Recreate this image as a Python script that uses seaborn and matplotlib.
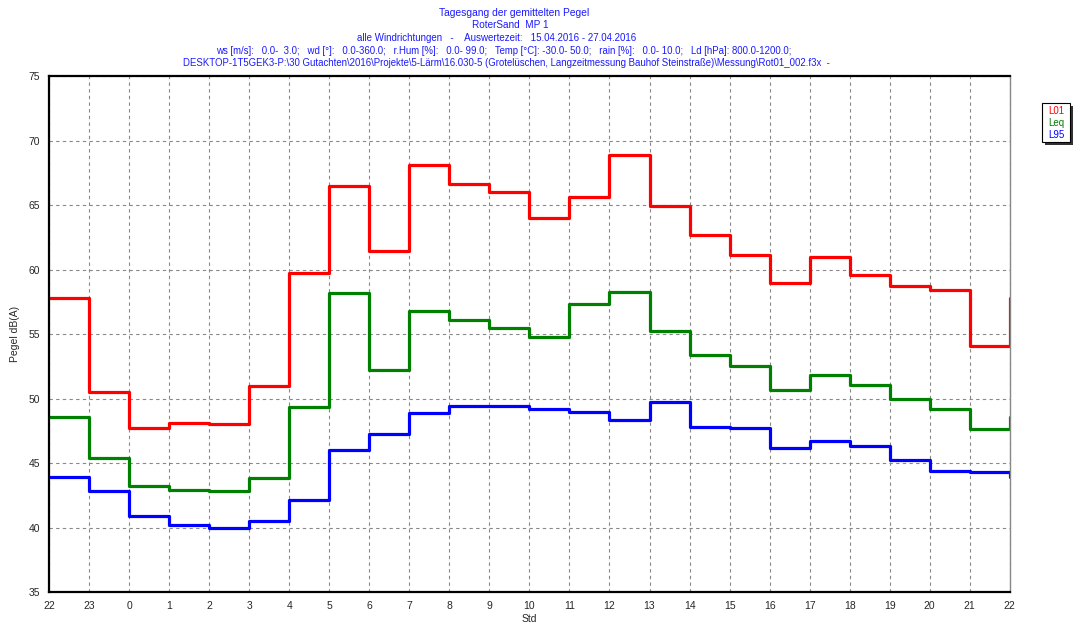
import numpy as np
import pandas as pd
import matplotlib
matplotlib.use("Agg")
import matplotlib.pyplot as plt
import seaborn as sns
from matplotlib.ticker import MultipleLocator

# Stunden (22 Uhr bis 22 Uhr)
stunden = [22, 23, 0, 1, 2, 3, 4, 5, 6, 7, 8, 9, 10, 11, 12, 13, 14, 15, 16, 17, 18, 19, 20, 21, 22]

# Mittelwerte je Stunde, dB(A)
l01 = [57.8, 50.5, 47.7, 48.1, 48.05, 51.0, 59.7, 66.5, 61.4, 68.1, 66.6, 66.0,
       64.0, 65.6, 68.9, 64.9, 62.7, 61.1, 58.95, 60.95, 59.6, 58.75, 58.4, 54.1]
leq = [48.6, 45.4, 43.25, 42.9, 42.85, 43.8, 49.35, 58.2, 52.2, 56.8, 56.05, 55.5,
       54.75, 57.3, 58.25, 55.25, 53.35, 52.55, 50.65, 51.85, 51.05, 50.0, 49.2, 47.6]
l95 = [43.95, 42.85, 40.9, 40.2, 40.0, 40.5, 42.15, 46.0, 47.25, 48.85, 49.45, 49.4,
       49.15, 48.95, 48.35, 49.7, 47.8, 47.7, 46.15, 46.7, 46.3, 45.25, 44.35, 44.3]

reihen = {"L01": l01, "Leq": leq, "L95": l95}
farben = {"L01": "#ff0000", "Leq": "#008000", "L95": "#0000ff"}

# Lange Tabelle, letzter Wert = erster Wert (Tageszyklus)
rows = []
for name, werte in reihen.items():
    w = list(werte) + [werte[0]]
    for i, v in enumerate(w):
        rows.append({"pos": i, "Pegel": v, "Reihe": name})
df = pd.DataFrame(rows)

sns.set_style("white")
plt.rcParams["font.family"] = ["Liberation Sans", "DejaVu Sans"]

fig = plt.figure(figsize=(10.8, 6.3), dpi=100)
ax = fig.add_axes([0.0454, 0.0603, 0.8896, 0.8190])

sns.lineplot(data=df, x="pos", y="Pegel", hue="Reihe", palette=farben,
             drawstyle="steps-post", linewidth=2.3, ax=ax, legend=False)

ax.set_xlim(0, 24)
ax.set_ylim(35, 75)
ax.set_xticks(range(25))
ax.set_xticklabels([str(s) for s in stunden], fontsize=7.5)
ax.set_yticks(range(35, 76, 5))
ax.tick_params(axis="y", labelsize=7.5, length=3)
ax.tick_params(axis="x", length=3)
ax.xaxis.set_minor_locator(MultipleLocator(0.2))
ax.yaxis.set_minor_locator(MultipleLocator(1))
ax.tick_params(which="minor", length=2, direction="in")
ax.tick_params(axis="both", which="major", direction="out", color="#888888")
ax.grid(True, which="major", linestyle=(0, (3, 3)), color="#888888", linewidth=0.8)

for side in ["left", "bottom", "top"]:
    ax.spines[side].set_color("black")
    ax.spines[side].set_linewidth(1.6)
ax.spines["right"].set_color("#888888")
ax.spines["right"].set_linewidth(1.0)

ax.set_xlabel("Std", fontsize=7.5, labelpad=2)
ax.set_ylabel("Pegel dB(A)", fontsize=7.5, labelpad=6)

# Kopfzeilen
kopf = [
    "Tagesgang der gemittelten Pegel",
    "RoterSand  MP 1",
    "alle Windrichtungen   -    Auswertezeit:   15.04.2016 - 27.04.2016",
    "ws [m/s]:   0.0-  3.0;   wd [°]:   0.0-360.0;   r.Hum [%]:   0.0- 99.0;   Temp [°C]: -30.0- 50.0;   rain [%]:   0.0- 10.0;   Ld [hPa]: 800.0-1200.0;",
    "DESKTOP-1T5GEK3-P:\\30 Gutachten\\2016\\Projekte\\5-Lärm\\16.030-5 (Grotelüschen, Langzeitmessung Bauhof Steinstraße)\\Messung\\Rot01_002.f3x  -",
]
kopf_x = [514, 510, 497, 504, 506]
kopf_size = [7.4, 7.2, 7.0, 6.9, 6.9]
for i, t in enumerate(kopf):
    fig.text(kopf_x[i] / 1080, 1 - (12.5 + i * 12.7) / 630, t, ha="center", va="center",
             fontsize=kopf_size[i], color="#1a1aff")

# Legende rechts
lx, ly_top, ly_bot = 1042 / 1080, 1 - 103 / 630, 1 - 142 / 630
lw = 28 / 1080
lh = ly_top - ly_bot
fig.patches.append(plt.Rectangle((lx + 2.5 / 1080, ly_bot - 2.5 / 630), lw, lh,
                                 transform=fig.transFigure, facecolor="#333333",
                                 edgecolor="none", zorder=1))
fig.patches.append(plt.Rectangle((lx, ly_bot), lw, lh,
                                 transform=fig.transFigure, facecolor="white",
                                 edgecolor="black", linewidth=0.8, zorder=2))
for i, name in enumerate(reihen):
    fig.text(lx + lw / 2, 1 - (110.5 + i * 12) / 630, name, ha="center", va="center",
             fontsize=7, color=farben[name], zorder=3)

fig.savefig("out.png", dpi=100)
